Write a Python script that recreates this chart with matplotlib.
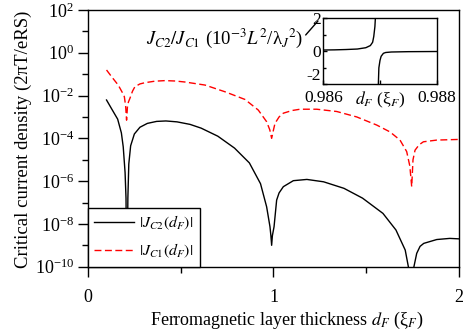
import numpy as np
import matplotlib
matplotlib.use("Agg")
import matplotlib.pyplot as plt

# Hauptdiagramm: kritische Stromdichte ueber Schichtdicke d_F
x_c2 = [0.10, 0.13, 0.16, 0.18, 0.19, 0.20, 0.205, 0.21, 0.215, 0.22, 0.23, 0.25,
        0.28, 0.32, 0.37, 0.42, 0.48, 0.55, 0.61, 0.70, 0.79, 0.87, 0.93, 0.963,
        0.981, 0.986, 0.990, 0.994, 1.003, 1.017, 1.03, 1.053, 1.107, 1.18, 1.27,
        1.38, 1.48, 1.59, 1.66, 1.71, 1.727, 1.74, 1.757, 1.772, 1.79, 1.81, 1.88,
        1.95, 2.0]
j_c2 = [6.2e-3, 2.2e-3, 7.9e-4, 1.8e-4, 4.0e-5, 2.5e-6, 1.6e-7, 1e-12, 1.6e-7, 6.3e-6,
        4.5e-5, 1.6e-4, 3.3e-4, 5.0e-4, 6.2e-4, 6.5e-4, 5.9e-4, 4.5e-4, 3.0e-4, 1.26e-4,
        3.5e-5, 7.1e-6, 7.6e-7, 6.3e-8, 7.4e-9, 2.8e-9, 1.0e-9, 2.8e-9, 7.4e-9, 1.3e-7,
        2.8e-7, 5.5e-7, 1.05e-6, 1.2e-6, 9.3e-7, 4.6e-7, 1.6e-7, 3.1e-8, 5.2e-9, 6.0e-10,
        1.0e-10, 1e-12, 1.0e-10, 4.2e-10, 8.9e-10, 1.23e-9, 1.86e-9, 2.1e-9, 2.0e-9]

x_c1 = [0.10, 0.13, 0.163, 0.185, 0.196, 0.203, 0.208, 0.213, 0.218, 0.226, 0.24, 0.253,
        0.28, 0.307, 0.36, 0.415, 0.47, 0.523, 0.631, 0.739, 0.846, 0.918, 0.963, 0.98,
        0.99, 1.0, 1.008, 1.03, 1.053, 1.10, 1.143, 1.233, 1.341, 1.449, 1.556, 1.628,
        1.682, 1.718, 1.735, 1.745, 1.752, 1.763, 1.785, 1.808, 1.88, 2.0]
j_c1 = [0.157, 0.071, 0.031, 0.014, 8.9e-3, 3.2e-3, 7.1e-4, 3.2e-3, 5.0e-3, 7.4e-3, 0.016,
        0.026, 0.035, 0.040, 0.047, 0.050, 0.048, 0.043, 0.031, 0.015, 6.6e-3, 2.1e-3,
        6.0e-4, 2.5e-4, 1.0e-4, 2.5e-4, 5.0e-4, 1.0e-3, 1.5e-3, 2.0e-3, 2.3e-3, 2.3e-3,
        1.8e-3, 1.0e-3, 4.2e-4, 2.0e-4, 8.3e-5, 2.4e-5, 5.0e-6, 5.5e-7, 1.0e-5, 2.8e-5,
        5.0e-5, 6.9e-5, 8.3e-5, 8.9e-5]

# Inset: Verhaeltnis J_C2/J_C1 nahe der Nullstelle (zwei Aeste)
x_ins_l = [0.986, 0.9862, 0.9864, 0.9866, 0.98675, 0.98683, 0.98687, 0.98689, 0.98691, 0.98692]
r_ins_l = [0.08, 0.09, 0.11, 0.14, 0.22, 0.35, 0.55, 0.9, 1.5, 2.1]
x_ins_r = [0.98697, 0.98698, 0.98700, 0.98702, 0.98706, 0.9871, 0.9872, 0.9875, 0.988]
r_ins_r = [-2.1, -1.0, -0.55, -0.3, -0.12, -0.07, -0.04, -0.02, -0.01]

plt.rcParams['font.family'] = ['Liberation Serif', 'DejaVu Serif']
plt.rcParams['mathtext.fontset'] = 'stix'
plt.rcParams['font.size'] = 13

fig = plt.figure(figsize=(4.66, 3.36), dpi=100)
ax = fig.add_axes([0.1888, 0.2063, 0.7962, 0.7639])

ax.plot(x_c2, j_c2, color='black', lw=1.0, label=r'$|J_{C2}(d_F)|$')
ax.plot(x_c1, j_c1, color='red', lw=1.0, dashes=(5, 2.5), label=r'$|J_{C1}(d_F)|$')

ax.set_yscale('log')
ax.set_xlim(0, 2)
ax.set_ylim(1e-10, 1e2)
ax.set_xticks([0, 1, 2])
ax.set_xticks([0.5, 1.5], minor=True)
ax.set_yticks([10.0 ** k for k in range(-10, 3, 2)])
ax.set_yticks([10.0 ** k for k in range(-9, 2, 2)], minor=True)
ax.yaxis.set_minor_formatter(matplotlib.ticker.NullFormatter())
ax.tick_params(which='major', direction='out', length=7, width=1, labelsize=13, pad=3)
ax.tick_params(which='minor', direction='out', length=4.5, width=1)
ax.tick_params(axis='x', pad=9)
for s in ax.spines.values():
    s.set_linewidth(1.0)

ax.set_xlabel(r'Ferromagnetic layer thickness $d_F$ (ξ$_F$)', fontsize=13)
ax.xaxis.set_label_coords(0.537, -0.167)
ax.set_ylabel('Critical current density (2πT/eRS)', fontsize=13.5)
ax.yaxis.set_label_coords(-0.15, 0.495)

leg = ax.legend(loc='lower left', borderaxespad=0, fancybox=False, edgecolor='black',
                framealpha=1, handlelength=2.5, fontsize=11.5, borderpad=0.4,
                labelspacing=0.6, handletextpad=0.3)
leg.get_frame().set_linewidth(1.0)
leg.set_zorder(5)

# Inset
ax2 = fig.add_axes([0.6938, 0.749, 0.2433, 0.1964])
ax2.plot(x_ins_l, r_ins_l, color='black', lw=1.0)
ax2.plot(x_ins_r, r_ins_r, color='black', lw=1.0)
ax2.set_xlim(0.986, 0.988)
ax2.set_ylim(-2, 2)
ax2.set_xticks([0.986, 0.987, 0.988])
ax2.set_xticklabels(['0.986', '', '0.988'])
ax2.set_yticks([-2, 0, 2])
ax2.set_yticklabels(['-2', '0', '2'])
ax2.get_yticklabels()[0].set_va('bottom')
ax2.set_yticks([-1, 1], minor=True)
ax2.tick_params(which='major', direction='in', length=3, width=1, labelsize=12.5, pad=2)
ax2.tick_params(axis='x', pad=4)
ax2.tick_params(which='minor', direction='in', length=2.5, width=1)
for s in ax2.spines.values():
    s.set_linewidth(1.0)
ax2.text(0.5, -0.09, r'$d_F$ (ξ$_F$)', transform=ax2.transAxes, ha='center', va='top',
         fontsize=12.5)
ax2.annotate(r'$J_{C2}/J_{C1}$ (10$^{-3}$$L^2$/λ$_J$$^{2}$)', xy=(-0.047, 0.96),
             xycoords='axes fraction', xytext=(-0.18, 0.70), textcoords='axes fraction',
             ha='right', va='center', fontsize=13.5,
             arrowprops=dict(arrowstyle='-', lw=1.0, color='black', shrinkA=0, shrinkB=0,
                             relpos=(1.0, 0.5)))

fig.savefig('out.png', dpi=100)
